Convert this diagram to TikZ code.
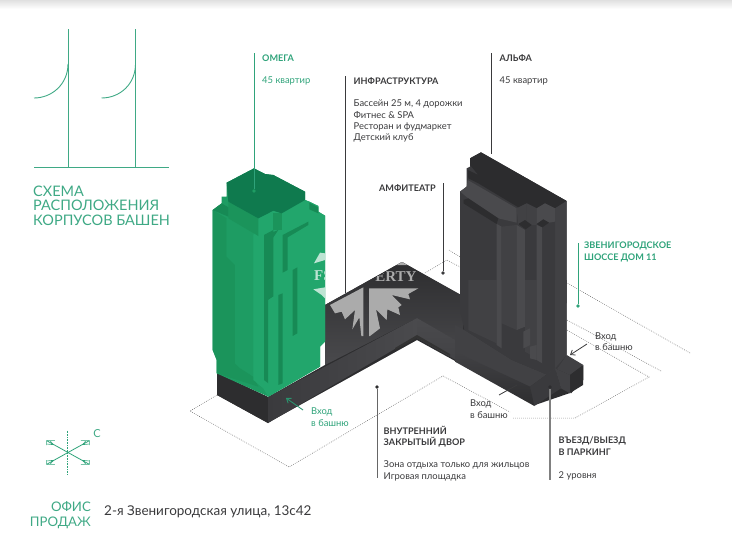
\documentclass[tikz,border=0pt]{standalone}
\usepackage{fontspec}
\setmainfont{Lato}
\newfontfamily\wmfont{Liberation Serif}
\usetikzlibrary{arrows.meta}
\definecolor{gr}{HTML}{2FA37A}
\definecolor{logo}{HTML}{3FA985}
\definecolor{ink}{HTML}{3A3A3C}
\definecolor{g1}{HTML}{22A66C}
\definecolor{g2}{HTML}{1E9C63}
\definecolor{g3}{HTML}{1B945B}
\definecolor{g4}{HTML}{0F7A4E}
\definecolor{g5}{HTML}{178A55}
\definecolor{d0}{HTML}{2C2C2E}
\definecolor{d1}{HTML}{2D2D2F}
\definecolor{d2}{HTML}{3A3A3D}
\definecolor{d3}{HTML}{414144}
\definecolor{d4}{HTML}{4A4A4D}
\tikzset{
 txt/.style={anchor=west,inner sep=0pt,text=ink,font=\fontsize{9.4}{10}\selectfont},
 hd/.style={txt,font=\fontsize{9.1}{10}\selectfont\bfseries},
 gt/.style={txt,text=gr},
 gh/.style={hd,text=gr},
 big/.style={anchor=west,inner sep=0pt,text=logo,font=\fontsize{14.5}{16}\selectfont},
 off/.style={inner sep=0pt,anchor=east,text=logo,font=\fontsize{13.2}{16}\selectfont},
 lead/.style={line width=.9pt,draw=ink},
 glead/.style={line width=.9pt,draw=gr},
 dotl/.style={draw=black!65,line width=.5pt,dash pattern=on .7pt off 1.3pt},
 dotn/.style={circle,inner sep=0pt,minimum size=3.6pt,fill=#1},
 lg/.style={draw=logo,line width=.9pt},
 wm/.style={fill=black!33,draw=none},
 wg/.style={fill=white!70!g1,draw=none},
 z2/.style={shift={(190,150)},scale=1/3},
 uu/.style={shift={(455,150)},scale=1/3},
 vv/.style={shift={(455,280)},scale=1/3},
 z4/.style={shift={(300,230)},scale=1/3},
 z5/.style={shift={(0,420)},scale=1/3}
}
\begin{document}
\begin{tikzpicture}[x=1pt,y=-1pt]
\useasboundingbox (0,0) rectangle (732,554);
\shade[top color=black!12,bottom color=white] (0,0) rectangle (732,9);
% logo
\coordinate (la) at (68,29); \coordinate (lb) at (68,167);
\coordinate (lc) at (135.5,29); \coordinate (ld) at (135.5,167);
\coordinate (le) at (34,167); \coordinate (lf) at (169,167);
\draw[lg] (la)--(lb); \draw[lg] (lc)--(ld); \draw[lg] (le)--(lf);
\draw[lg] (68,64) .. controls (68,84) and (52,98) .. (34,98);
\draw[lg] (135.5,64) .. controls (135.5,84) and (120,98) .. (101.5,98);
\node[big] (t1) at (33,191) {СХЕМА};
\node[big] (t2) at (33,205.5) {РАСПОЛОЖЕНИЯ};
\node[big] (t3) at (33,220) {КОРПУСОВ БАШЕН};
% dotted lot lines
\draw[dotl] (217,395)--(190,411)--(289,467)--(443,376)--(510,412);
\draw[dotl] (513,418)--(575,418)--(649,377)--(567,330);
\draw[dotl] (661,371)--(567,320);
\draw[dotl] (690,353)--(567,283);
\draw[dotl] (425,273)--(447,260)--(460,267);
\draw[dotl] (449,250)--(460,257);
% plinth
\fill[d1] (217,373)--(217,395)--(268,423)--(273,420)--(417,340)--(535,405)--(570,393)--(583,385)--(583,366)--(567,356)--(460,295)--(402,262)--(325,305)--(325,365)--(268,397)--cycle;
\shade[top color=d1,bottom color=d4,shading angle=0] (325,305)--(402,262)--(463,296)--(463,345)--(417,318)--(325,365)--cycle;
\fill[d1] (217,373)--(268,397)--(268,423)--(217,395)--cycle;
\shade[left color=d2,right color=d4] (268,397)--(417,318)--(417,336)--(268,423)--cycle;
\shade[top color=d4,bottom color=d2] (417,318)--(530,383)--(535,405)--(417,338)--cycle;
\fill[black!80] (417,335)--(450,354)--(450,356)--(417,338)--(395,350)--(395,348)--cycle;
% green tower
\begin{scope}[z2]
\fill[g2] (68,180)--(95,160)--(95,140)--(110,140)--(110,98)--(192,55)--(225,72)--(250,75)--(345,125)--(345,150)--(358,155)--(385,168)--(385,185)--(405,197)--(405,575)--(390,590)--(390,650)--(235,740)--(80,670)--(80,630)--(68,600)--cycle;
\fill[g1] (205,205)--(250,182)--(275,190)--(345,150)--(358,155)--(385,168)--(385,185)--(405,197)--(405,575)--(390,590)--(390,650)--(235,740)--(220,715)--(190,690)--(190,255)--cycle;
\fill[g3] (68,180)--(110,205)--(110,320)--(135,345)--(135,640)--(150,655)--(190,680)--(205,710)--(80,670)--(80,630)--(68,600)--cycle;
\fill[g2] (110,205)--(190,255)--(190,680)--(155,655)--(135,640)--(135,345)--(110,320)--cycle;
\fill[g1] (190,255)--(222,250)--(222,715)--(190,690)--cycle;
\fill[g3] (115,155)--(205,205)--(205,258)--(115,205)--cycle;
\fill[g5] (95,160)--(115,172)--(115,200)--(68,180)--cycle;
\fill[g5] (222,255)--(250,240)--(250,440)--(235,450)--(235,700)--(222,690)--cycle;
\fill[g1] (235,450)--(250,440)--(265,435)--(265,705)--(235,720)--cycle;
\fill[g5] (265,435)--(278,430)--(278,700)--(265,705)--cycle;
\fill[g5] (308,360)--(322,352)--(322,550)--(308,558)--cycle;
\fill[g5] (278,255)--(355,215)--(355,225)--(293,262)--(293,360)--(278,368)--cycle;
\fill[g3] (250,190)--(275,190)--(275,240)--(250,240)--cycle;
\fill[g5] (225,255)--(265,240)--(250,262)--(225,270)--cycle;
\fill[g5] (358,158)--(385,172)--(385,190)--(358,178)--cycle;
\fill[g4] (110,98)--(192,55)--(225,72)--(250,75)--(345,125)--(345,150)--(275,190)--(250,182)--(205,205)--(115,155)--cycle;
\end{scope}
% right tower
\begin{scope}[uu]
\fill[d2] (45,25)--(78,7)--(335,153)--(335,460)--(15,390)--(15,125)--(35,110)--(35,55)--(45,50)--cycle;
\fill[d0] (45,25)--(78,7)--(335,153)--(300,175)--(270,160)--(245,175)--(215,160)--(190,172)--(70,100)--(40,85)--(38,60)--(70,75)--(45,45)--cycle;
\fill[d4] (38,90)--(185,175)--(185,218)--(130,205)--(40,145)--(15,125)--(35,110)--cycle;
\fill[d1] (25,150)--(40,145)--(130,205)--(125,222)--(25,160)--cycle;
\fill[d3] (185,175)--(215,160)--(215,215)--(190,225)--cycle;
\fill[d3] (215,160)--(245,175)--(245,225)--(230,225)--(215,215)--cycle;
\fill[d4] (245,175)--(270,160)--(300,175)--(300,215)--(282,218)--(265,208)--(245,222)--cycle;
\fill[d3] (300,175)--(335,153)--(335,400)--(300,400)--cycle;
\fill[d2] (15,125)--(25,135)--(25,400)--(15,400)--cycle;
\fill[d2] (40,175)--(125,225)--(125,400)--(40,400)--cycle;
\fill[d4] (125,222)--(140,230)--(140,400)--(125,400)--cycle;
\fill[d3] (140,230)--(185,225)--(185,400)--(140,400)--cycle;
\fill[d4] (185,225)--(210,240)--(210,400)--(185,400)--cycle;
\fill[d2] (210,240)--(245,225)--(245,400)--(210,400)--cycle;
\fill[d4] (245,225)--(262,232)--(262,400)--(245,400)--cycle;
\fill[d2] (262,232)--(300,215)--(300,400)--(262,400)--cycle;
\fill[d1] (190,222)--(210,210)--(230,225)--(212,238)--cycle;
\fill[d1] (245,222)--(265,208)--(282,218)--(262,232)--cycle;
\end{scope}
\begin{scope}[vv]
\fill[d2] (15,0)--(335,0)--(335,225)--(290,290)--(170,240)--(28,150)--(15,90)--cycle;
\fill[d3] (40,0)--(125,0)--(125,190)--(40,150)--cycle;
\fill[d3] (140,0)--(185,0)--(185,150)--(140,130)--cycle;
\fill[d4] (125,0)--(140,0)--(140,205)--(125,195)--cycle;
\fill[d4] (185,0)--(210,0)--(210,140)--(185,150)--cycle;
\fill[d3] (210,0)--(245,0)--(245,235)--(210,215)--cycle;
\fill[d4] (245,0)--(262,0)--(262,250)--(245,240)--cycle;
\fill[d2] (262,0)--(300,0)--(300,265)--(262,250)--cycle;
\fill[d3] (300,0)--(335,0)--(335,225)--(300,265)--cycle;
\fill[d2] (170,145)--(205,165)--(205,250)--(170,235)--cycle;
\fill[d4] (205,155)--(225,145)--(225,195)--(205,205)--cycle;
\fill[d4] (225,200)--(245,195)--(245,240)--(225,235)--cycle;
% plinth top and end
\fill[d3] (28,150)--(170,240)--(290,290)--(335,225)--(385,255)--(345,285)--(300,265)--(225,320)--(0,215)--(0,135)--cycle;
\fill[d2] (225,320)--(300,265)--(318,325)--(238,378)--cycle;
\fill[d3] (300,265)--(345,285)--(345,340)--(318,325)--cycle;
\fill[d1] (345,285)--(385,255)--(385,300)--(348,340)--cycle;
\shade[top color=d3,bottom color=d1] (0,215)--(225,320)--(238,378)--(0,245)--cycle;
\end{scope}
% watermark, visible on the dark courtyard and the green tower only
\begin{scope}
\clip (325,305)--(402,262)--(463,296)--(463,345)--(417,318)--(325,365)--cycle;
\begin{scope}[z4]
\fill[wm] (305,95)--(290,105)--(322,105)--cycle;
\fill[wm] (90,225)--(190,172)--(190,318)--(184,318)--(178,262)--(157,298)--(165,240)--(135,268)--(125,245)--(105,250)--cycle;
\fill[wm] (207,175)--(355,175)--(325,192)--(330,208)--(275,195)--(305,225)--(295,232)--(300,255)--(262,238)--(260,270)--(228,238)--(240,295)--(210,318)--(207,318)--cycle;
\node[inner sep=0pt,text=black!33,font=\wmfont\fontsize{15}{15}\selectfont\bfseries] (wm2) at (288,139) {ERTY};
\end{scope}
\end{scope}
\begin{scope}
\clip (300,230) rectangle (325,300);
\begin{scope}[z4]
\fill[wg] (42,100)--(75,90)--(75,70)--(60,68)--cycle;
\fill[wg] (40,178)--(75,172)--(75,205)--(65,195)--cycle;
\node[inner sep=0pt,anchor=west,text=white!70!g1,font=\wmfont\fontsize{15}{15}\selectfont\bfseries] (wm1) at (42,136) {FS};
\end{scope}
\end{scope}
% leaders
\node[dotn=g2] (d1) at (254,191) {};
\coordinate (c1) at (254,53);
\draw[glead] (c1)--(d1);
\coordinate (c2) at (345.5,76); \coordinate (c2b) at (345.5,293);
\draw[lead] (c2)--(c2b);
\node[dotn=ink] (d3) at (443,273) {};
\coordinate (c3) at (443,183);
\draw[lead] (c3)--(d3);
\coordinate (c4) at (491,53); \coordinate (c4b) at (491,154);
\draw[lead] (c4)--(c4b);
\node[dotn=gr] (d5) at (578,306) {};
\coordinate (c5) at (578,243);
\draw[glead] (c5)--(d5);
\node[dotn=d1] (d6) at (377,387) {};
\coordinate (c6) at (377,478);
\draw[draw=black!60,line width=1pt] (d6)--(c6);
\node[dotn=d1] (d7) at (550,387) {};
\coordinate (c7) at (550,480);
\draw[draw=black!50,line width=1.2pt] (d7)--(c7);
% arrows
\coordinate (a1) at (303,410); \coordinate (a1b) at (286,398);
\draw[gr!90!black,line width=.9pt,-{Straight Barb[length=4pt,width=6pt]}] (a1)--(a1b);
\coordinate (a2) at (587,344); \coordinate (a2b) at (570,355);
\draw[ink,line width=.8pt,-{Straight Barb[length=4pt,width=6pt]}] (a2)--(a2b);
\coordinate (a3) at (499,395); \coordinate (a3b) at (517,385);
\draw[ink,line width=.8pt] (a3)--(a3b);
% labels
\node[gh] (om) at (262,58) {ОМЕГА};
\node[gt] (om2) at (262,81) {45 квартир};
\node[hd] (inf) at (353.5,81) {ИНФРАСТРУКТУРА};
\node[txt] (i1) at (353.5,104) {Бассейн 25 м, 4 дорожки};
\node[txt] (i2) at (353.5,115) {Фитнес \& SPA};
\node[txt] (i3) at (353.5,127) {Ресторан и фудмаркет};
\node[txt] (i4) at (353.5,138) {Детский клуб};
\node[hd,anchor=east] (am) at (436,188) {АМФИТЕАТР};
\node[hd] (al) at (499.5,58) {АЛЬФА};
\node[txt] (al2) at (499.5,81) {45 квартир};
\node[gh] (zv1) at (584,246) {ЗВЕНИГОРОДСКОЕ};
\node[gh] (zv2) at (584,258) {ШОССЕ ДОМ 11};
\node[txt] (v1) at (595,337) {Вход};
\node[txt] (v2) at (595,347.5) {в башню};
\node[txt] (v3) at (470,404) {Вход};
\node[txt] (v4) at (470,415) {в башню};
\node[gt] (v5) at (311,412) {Вход};
\node[gt] (v6) at (311,423) {в башню};
\node[hd] (vn1) at (383.5,430) {ВНУТРЕННИЙ};
\node[hd] (vn2) at (383.5,442.5) {ЗАКРЫТЫЙ ДВОР};
\node[txt] (vn3) at (383.5,465) {Зона отдыха только для жильцов};
\node[txt] (vn4) at (383.5,477) {Игровая площадка};
\node[hd] (p1) at (558.5,441) {ВЪЕЗД/ВЫЕЗД};
\node[hd] (p2) at (558.5,452.5) {В ПАРКИНГ};
\node[txt] (p3) at (558.5,476) {2 уровня};
% compass
\begin{scope}[z5]
\coordinate (n) at (203,32); \coordinate (s) at (203,162);
\draw[gr,line width=.6pt,dash pattern=on .8pt off .8pt] (n)--(s);
\coordinate (e1) at (140,62); \coordinate (e2) at (268,133);
\coordinate (e3) at (268,62); \coordinate (e4) at (140,133);
\draw[gr,line width=.8pt] (e1)--(e2);
\draw[gr,line width=.8pt] (e3)--(e4);
\draw[gr,line width=.6pt] (165,62)--(140,62)--(140,75) (150,62)--(160,74)--(140,72);
\draw[gr,line width=.6pt] (243,62)--(268,62)--(268,75) (258,62)--(248,74)--(268,72);
\draw[gr,line width=.6pt] (165,133)--(140,133)--(140,120) (150,133)--(160,121)--(140,123);
\draw[gr,line width=.6pt] (243,133)--(268,133)--(268,120) (258,133)--(248,121)--(268,123);
\end{scope}
\node[anchor=center,inner sep=0pt,text=logo,font=\fontsize{11}{11}\selectfont] (cs) at (97,434) {С};
\node[off] (of1) at (91,507) {ОФИС};
\node[off] (of2) at (91,523) {ПРОДАЖ};
\node[anchor=west,inner sep=0pt,text=ink,font=\fontsize{13.5}{15}\selectfont] (ad) at (104,512) {2-я Звенигородская улица, 13с42};
\end{tikzpicture}
\end{document}
